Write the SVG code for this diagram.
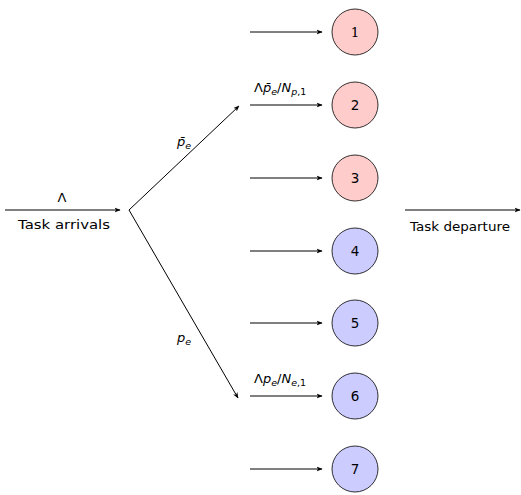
<svg xmlns="http://www.w3.org/2000/svg" width="521" height="495" viewBox="0 0 521 495">
  <defs>
    <marker id="arrow" viewBox="0 0 10 10" refX="9" refY="5" markerWidth="6" markerHeight="6" markerUnits="userSpaceOnUse" orient="auto">
      <path d="M0,1 L10,5 L0,9 L2.5,5 Z" fill="#000"/>
    </marker>
  </defs>
  <style>
    .edge { stroke: #000; stroke-width: 1; fill: none; marker-end: url(#arrow); }
    .node { stroke: #000; stroke-width: 0.8; }
    .p { fill: #ffcccc; }
    .e { fill: #ccccff; }
    text { font-family: "DejaVu Sans", "Liberation Sans", sans-serif; font-size: 13px; fill: #000; }
    .num { font-size: 13.5px; text-anchor: middle; }
    .it { font-style: italic; }
    .sub { font-size: 9.5px; }
  </style>

  <rect width="521" height="495" fill="#fff"/>

  <g id="connectors">
    <line class="edge" x1="5" y1="210" x2="120" y2="210"/>
    <line class="edge" x1="129" y1="210" x2="239" y2="106"/>
    <line class="edge" x1="129" y1="210" x2="238" y2="398"/>
    <line class="edge" x1="250" y1="32" x2="322" y2="32"/>
    <line class="edge" x1="250" y1="105" x2="322" y2="105"/>
    <line class="edge" x1="250" y1="178" x2="322" y2="178"/>
    <line class="edge" x1="250" y1="251" x2="322" y2="251"/>
    <line class="edge" x1="250" y1="323" x2="322" y2="323"/>
    <line class="edge" x1="250" y1="396" x2="322" y2="396"/>
    <line class="edge" x1="250" y1="469" x2="322" y2="469"/>
    <line class="edge" x1="405" y1="210" x2="520" y2="210"/>
  </g>

  <g id="labels">
    <text x="62" y="202" text-anchor="middle">Λ</text>
    <text x="18" y="229" textLength="92" lengthAdjust="spacingAndGlyphs">Task arrivals</text>
    <text x="410" y="231" textLength="100" lengthAdjust="spacingAndGlyphs">Task departure</text>
    <text x="177" y="146"><tspan class="it">p̄</tspan><tspan class="it sub" dy="3">e</tspan></text>
    <text x="177" y="342"><tspan class="it">p</tspan><tspan class="it sub" dy="3">e</tspan></text>
    <text x="254" y="92">Λ<tspan class="it">p̄</tspan><tspan class="it sub" dy="3">e</tspan><tspan dy="-3">/</tspan><tspan class="it">N</tspan><tspan class="sub" dy="3"><tspan class="it">p</tspan>,1</tspan></text>
    <text x="254" y="383">Λ<tspan class="it">p</tspan><tspan class="it sub" dy="3">e</tspan><tspan dy="-3">/</tspan><tspan class="it">N</tspan><tspan class="sub" dy="3"><tspan class="it">e</tspan>,1</tspan></text>
  </g>

  <g id="node1"><circle class="node p" cx="355" cy="32" r="23"/><text class="num" x="355" y="37" style="font-family:'DejaVu Serif',serif">1</text></g>
  <g id="node2"><circle class="node p" cx="355" cy="105" r="23"/><text class="num" x="355" y="110">2</text></g>
  <g id="node3"><circle class="node p" cx="355" cy="178" r="23"/><text class="num" x="355" y="183">3</text></g>
  <g id="node4"><circle class="node e" cx="355" cy="251" r="23"/><text class="num" x="355" y="256">4</text></g>
  <g id="node5"><circle class="node e" cx="355" cy="323" r="23"/><text class="num" x="355" y="328">5</text></g>
  <g id="node6"><circle class="node e" cx="355" cy="396" r="23"/><text class="num" x="355" y="401">6</text></g>
  <g id="node7"><circle class="node e" cx="355" cy="469" r="23"/><text class="num" x="355" y="474">7</text></g>
</svg>
